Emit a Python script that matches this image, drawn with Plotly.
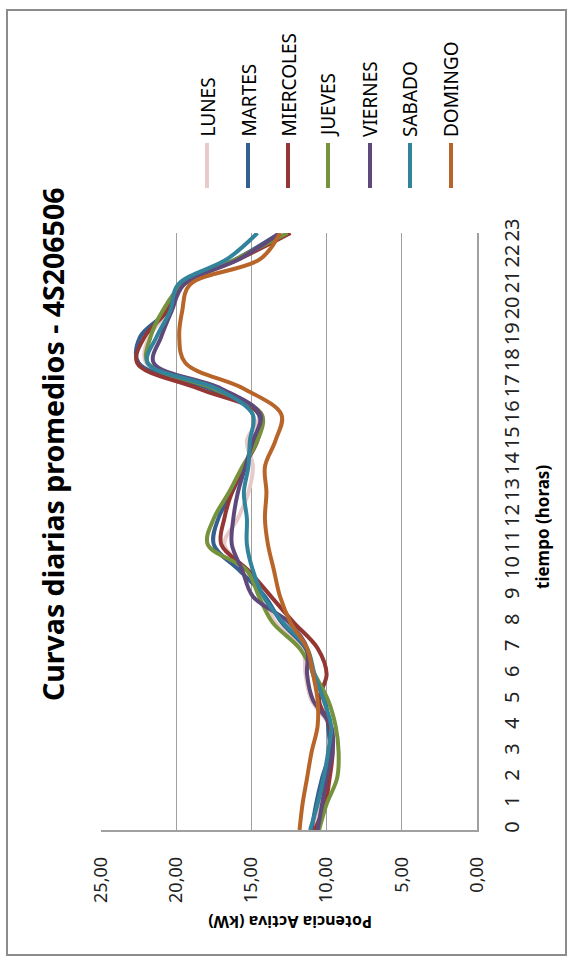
import plotly.graph_objects as go

hours = list(range(24))
hour_labels = [str(h) for h in hours]
power_ticks = [0, 5, 10, 15, 20, 25]

series_names = ["LUNES", "MARTES", "MIERCOLES", "JUEVES", "VIERNES", "SABADO", "DOMINGO"]
lunes = [10.9, 10.5, 10.1, 9.8, 9.8, 11.0, 11.4, 11.6, 13.4, 14.2, 15.3, 16.8, 15.9, 15.2, 14.9, 15.3, 14.5, 17.8, 22.0, 21.8, 20.5, 19.7, 15.8, 12.9]
martes = [11.0, 10.7, 10.3, 9.8, 9.9, 10.1, 10.9, 11.4, 13.0, 14.1, 15.8, 17.5, 17.2, 16.3, 15.5, 14.7, 14.5, 17.8, 22.5, 22.4, 20.6, 19.8, 16.0, 13.1]
miercoles = [10.8, 10.1, 9.8, 9.6, 9.8, 10.5, 10.0, 10.6, 12.2, 13.7, 15.2, 17.0, 16.8, 16.3, 15.5, 14.6, 14.4, 18.5, 22.6, 22.1, 20.6, 19.7, 15.8, 12.4]
jueves = [10.5, 10.0, 9.3, 9.2, 9.4, 9.9, 10.8, 11.8, 13.6, 14.5, 15.3, 17.9, 17.5, 16.5, 15.6, 14.6, 14.3, 17.5, 21.9, 21.7, 20.9, 19.6, 16.0, 12.6]
viernes = [10.6, 10.3, 10.0, 9.6, 9.7, 10.9, 11.3, 11.3, 12.5, 14.9, 15.6, 16.3, 16.2, 15.9, 15.4, 14.9, 14.4, 17.0, 21.5, 21.0, 20.3, 19.5, 15.8, 13.1]
sabado = [11.1, 10.6, 10.2, 9.9, 9.7, 10.2, 10.8, 11.3, 12.9, 14.2, 14.9, 15.3, 15.3, 15.5, 15.2, 15.1, 14.9, 17.3, 21.9, 21.3, 20.4, 19.9, 16.6, 14.6]
domingo = [11.8, 11.6, 11.3, 11.0, 10.6, 10.6, 10.9, 11.3, 12.4, 13.1, 13.5, 13.9, 14.1, 14.0, 14.1, 13.4, 13.0, 15.5, 19.4, 19.8, 19.6, 19.1, 14.4, 13.1]
series_values = [lunes, martes, miercoles, jueves, viernes, sabado, domingo]
colors = ["#E8CACA", "#365F91", "#943634", "#76923C", "#5F497A", "#31849B", "#B8652A"]

FONT = "Noto Sans"
W, H = 574, 963
L, R, T, B = 101, 97, 233, 133
PW, PH = W - L - R, H - T - B


def px(xp):
    return (xp - L) / PW


def py(yp):
    return (H - B - yp) / PH


fig = go.Figure()
for name, vals, col in zip(series_names, series_values, colors):
    fig.add_trace(go.Scatter(x=vals, y=hours, mode="lines", name=name,
                             line=dict(color=col, width=4, shape="spline", smoothing=1.0),
                             showlegend=False))

annotations = [
    dict(text="<b>Curvas diarias promedios - 4S206506</b>", textangle=-90,
         x=px(53), y=py(444), xref="paper", yref="paper", showarrow=False,
         xanchor="center", yanchor="middle", font=dict(family=FONT, size=28.5, color="#000")),
    dict(text="<b>Potencia Activa (kW)</b>", textangle=180,
         x=px(290), y=py(922), xref="paper", yref="paper", showarrow=False,
         xanchor="center", yanchor="middle", font=dict(family=FONT, size=16, color="#000")),
    dict(text="<b>tiempo (horas)</b>", textangle=-90,
         x=px(542), y=py(527), xref="paper", yref="paper", showarrow=False,
         xanchor="center", yanchor="middle", font=dict(family=FONT, size=17, color="#000")),
]
shapes = [
    dict(type="rect", xref="paper", yref="paper", x0=px(7), x1=px(566), y0=py(955), y1=py(10),
         line=dict(color="#8c8c8c", width=2), layer="below"),
]
legend_x = [207, 248, 288, 328, 370, 410, 451]
for name, col, lx in zip(series_names, colors, legend_x):
    shapes.append(dict(type="line", xref="paper", yref="paper", x0=px(lx), x1=px(lx),
                       y0=py(188), y1=py(143), line=dict(color=col, width=4)))
    annotations.append(dict(text=name, textangle=-90, x=px(lx), y=py(139), xref="paper", yref="paper",
                            showarrow=False, xanchor="center", yanchor="bottom",
                            font=dict(family=FONT, size=19, color="#000")))

fig.update_layout(
    width=W, height=H,
    margin=dict(l=L, r=R, t=T, b=B, pad=0),
    paper_bgcolor="white", plot_bgcolor="white",
    separators=",.",
    annotations=annotations, shapes=shapes,
    font=dict(family=FONT),
)
fig.update_xaxes(range=[25, 0], tickmode="array", tickvals=power_ticks, tickformat=".2f",
                 tickangle=-90, tickfont=dict(family=FONT, size=18, color="#222"),
                 showgrid=True, gridcolor="#a0a0a0", gridwidth=1, zeroline=False,
                 showline=True, linecolor="#a0a0a0", linewidth=1.5, ticks="", ticklabelstandoff=18)
fig.update_yaxes(range=[0, 23], tickmode="array", tickvals=hours, ticktext=hour_labels,
                 tickangle=-90, side="right", tickfont=dict(family=FONT, size=20, color="#222"),
                 showgrid=False, zeroline=False, showline=True, linecolor="#a0a0a0", linewidth=1.5,
                 ticks="", ticklabelstandoff=16)

fig.write_html("out.html", config={"displayModeBar": False},
               post_script="document.body.style.margin='0px';document.body.style.overflow='hidden';")
